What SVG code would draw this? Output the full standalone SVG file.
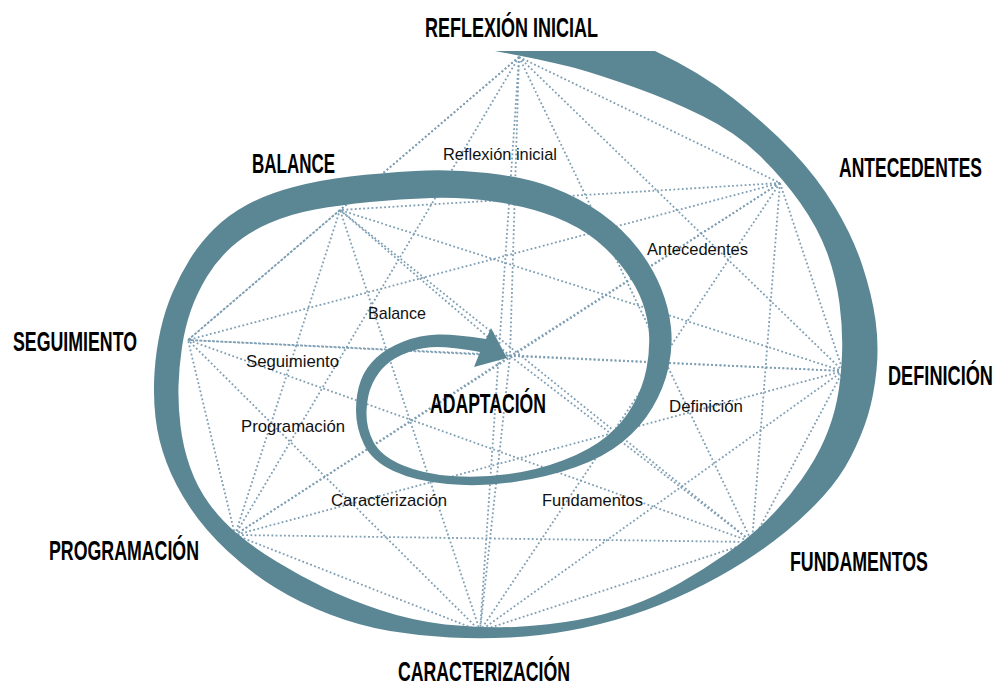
<svg xmlns="http://www.w3.org/2000/svg" width="997" height="685" viewBox="0 0 997 685">
<style>
.bg{fill:#ffffff}
.conn line{stroke:#7e9eb3;stroke-width:1.8;stroke-dasharray:1.8 2.4;fill:none}
.band{fill:#5b8795}
.big{font-family:"Liberation Sans",Arial,sans-serif;font-weight:bold;font-size:27px;fill:#000}
.small{font-family:"Liberation Sans Narrow","Liberation Sans","DejaVu Sans Condensed",sans-serif;font-size:17px;fill:#111}
</style>
<rect class="bg" x="0" y="0" width="997" height="685"/>
<g id="connectors" class="conn">
<line x1="519" y1="57" x2="780" y2="183"/>
<line x1="519" y1="57" x2="843" y2="371"/>
<line x1="519" y1="57" x2="752" y2="542"/>
<line x1="519" y1="57" x2="480" y2="631"/>
<line x1="519" y1="57" x2="235" y2="535"/>
<line x1="519" y1="57" x2="188" y2="340"/>
<line x1="519" y1="57" x2="340" y2="210"/>
<line x1="519" y1="57" x2="510" y2="356"/>
<line x1="780" y1="183" x2="843" y2="371"/>
<line x1="780" y1="183" x2="752" y2="542"/>
<line x1="780" y1="183" x2="480" y2="631"/>
<line x1="780" y1="183" x2="235" y2="535"/>
<line x1="780" y1="183" x2="188" y2="340"/>
<line x1="780" y1="183" x2="340" y2="210"/>
<line x1="780" y1="183" x2="510" y2="356"/>
<line x1="843" y1="371" x2="752" y2="542"/>
<line x1="843" y1="371" x2="480" y2="631"/>
<line x1="843" y1="371" x2="235" y2="535"/>
<line x1="843" y1="371" x2="188" y2="340"/>
<line x1="843" y1="371" x2="340" y2="210"/>
<line x1="843" y1="371" x2="510" y2="356"/>
<line x1="752" y1="542" x2="480" y2="631"/>
<line x1="752" y1="542" x2="235" y2="535"/>
<line x1="752" y1="542" x2="188" y2="340"/>
<line x1="752" y1="542" x2="340" y2="210"/>
<line x1="752" y1="542" x2="510" y2="356"/>
<line x1="480" y1="631" x2="235" y2="535"/>
<line x1="480" y1="631" x2="188" y2="340"/>
<line x1="480" y1="631" x2="340" y2="210"/>
<line x1="480" y1="631" x2="510" y2="356"/>
<line x1="235" y1="535" x2="188" y2="340"/>
<line x1="235" y1="535" x2="340" y2="210"/>
<line x1="235" y1="535" x2="510" y2="356"/>
<line x1="188" y1="340" x2="340" y2="210"/>
<line x1="188" y1="340" x2="510" y2="356"/>
<line x1="340" y1="210" x2="510" y2="356"/>
</g>
<g id="spiral">
<path class="band" d="M495,51 L655,51 Q700,72 733.5,98.5 Q767,125 792,151 Q817,177 835,207 Q853,237 862.5,266 Q872,295 875.5,320 Q879,345 876.5,370 Q874,395 868,415 Q862,435 851,456.5 Q840,478 822.5,497 Q805,516 786,531.5 Q767,547 743.5,562 Q720,577 690,591.5 Q660,606 630,615.5 Q600,625 570,630.5 Q540,636 510,637.5 Q480,639 450,637.5 Q420,636 390,631 Q360,626 330,614.5 Q300,603 275,587.5 Q250,572 227.5,551 Q205,530 190,507.5 Q175,485 166.5,462.5 Q158,440 155.5,417.5 Q153,395 154.5,372.5 Q156,350 160.5,330 Q165,310 172.5,292.5 Q180,275 190,259 Q200,243 214,229 Q228,215 247.5,204.5 Q267,194 293.5,187 Q320,180 350,176.5 Q380,173 415,171 Q450,169 487.5,173 Q525,177 552.5,187.5 Q580,198 601.5,213.5 Q623,229 638,248.5 Q653,268 661,288 Q669,308 671,327.5 Q673,347 668.5,367.5 Q664,388 652.5,407.5 Q641,427 622.5,442 Q604,457 576,467 Q548,477 514,482 Q480,487 447.5,484 Q415,481 393.5,471 Q372,461 364,444.5 Q356,428 356,410.5 Q356,393 361,380 Q366,367 376.5,357.5 Q387,348 403.5,341.5 Q420,335 437.5,334.5 Q455,334 486,339 L491,328 L507,358 L474,367 L480,352 Q452,347 437.5,347 Q423,347 409,352 Q395,357 386.5,364.5 Q378,372 372.5,383.5 Q367,395 366.5,411.5 Q366,428 373.5,442 Q381,456 402,465 Q423,474 451.5,476 Q480,478 509,474 Q538,470 564,460 Q590,450 606.5,436.5 Q623,423 633,405 Q643,387 646.5,368.5 Q650,350 649,334 Q648,318 642.5,302.5 Q637,287 625,270.5 Q613,254 596.5,240.5 Q580,227 555,217 Q530,207 496.5,202 Q463,197 431.5,198 Q400,199 370,202 Q340,205 315,209.5 Q290,214 268.5,223.5 Q247,233 232,246.5 Q217,260 207,276.5 Q197,293 191,310 Q185,327 182,347 Q179,367 178.5,386 Q178,405 180.5,426 Q183,447 190,467 Q197,487 209,503.5 Q221,520 237,533.5 Q253,547 276.5,561.5 Q300,576 325,588 Q350,600 380,610 Q410,620 445,624.5 Q480,628 515,627 Q550,625 577.5,620 Q605,615 630,606 Q655,597 679,583.5 Q703,570 726.5,553.5 Q750,537 768.5,518.5 Q787,500 801.5,479.5 Q816,459 824.5,439.5 Q833,420 837,400 Q841,380 842,355 Q843,330 839.5,303.5 Q836,277 827,252.5 Q818,228 800,202.5 Q782,177 758.5,154.5 Q735,132 702.5,116 Q670,100 635,87.5 Q600,75 575,68 Q550,61 495,51 Z"/>
</g>
<g id="node-reflexion">
<text class="big" transform="translate(425,37) scale(0.65,1)" textLength="266" lengthAdjust="spacingAndGlyphs">REFLEXIÓN INICIAL</text>
<text class="small" x="443" y="160" textLength="114" lengthAdjust="spacingAndGlyphs">Reflexión inicial</text>
</g>
<g id="node-antecedentes">
<text class="big" transform="translate(839,177) scale(0.65,1)" textLength="220" lengthAdjust="spacingAndGlyphs">ANTECEDENTES</text>
<text class="small" x="647" y="255" textLength="101" lengthAdjust="spacingAndGlyphs">Antecedentes</text>
</g>
<g id="node-definicion">
<text class="big" transform="translate(888,385) scale(0.65,1)" textLength="161.5" lengthAdjust="spacingAndGlyphs">DEFINICIÓN</text>
<text class="small" x="669" y="412" textLength="74" lengthAdjust="spacingAndGlyphs">Definición</text>
</g>
<g id="node-fundamentos">
<text class="big" transform="translate(790,571) scale(0.65,1)" textLength="212.3" lengthAdjust="spacingAndGlyphs">FUNDAMENTOS</text>
<text class="small" x="542" y="506" textLength="101" lengthAdjust="spacingAndGlyphs">Fundamentos</text>
</g>
<g id="node-caracterizacion">
<text class="big" transform="translate(398,681) scale(0.65,1)" textLength="264.6" lengthAdjust="spacingAndGlyphs">CARACTERIZACIÓN</text>
<text class="small" x="331" y="506" textLength="116" lengthAdjust="spacingAndGlyphs">Caracterización</text>
</g>
<g id="node-programacion">
<text class="big" transform="translate(49,560) scale(0.65,1)" textLength="230.8" lengthAdjust="spacingAndGlyphs">PROGRAMACIÓN</text>
<text class="small" x="241" y="432" textLength="104" lengthAdjust="spacingAndGlyphs">Programación</text>
</g>
<g id="node-seguimiento">
<text class="big" transform="translate(13,351) scale(0.65,1)" textLength="190.8" lengthAdjust="spacingAndGlyphs">SEGUIMIENTO</text>
<text class="small" x="246" y="367" textLength="93" lengthAdjust="spacingAndGlyphs">Seguimiento</text>
</g>
<g id="node-balance">
<text class="big" transform="translate(252,173) scale(0.65,1)" textLength="127.7" lengthAdjust="spacingAndGlyphs">BALANCE</text>
<text class="small" x="368" y="319" textLength="58" lengthAdjust="spacingAndGlyphs">Balance</text>
</g>
<g id="node-adaptacion">
<text class="big" transform="translate(430,413) scale(0.65,1)" textLength="178.5" lengthAdjust="spacingAndGlyphs">ADAPTACIÓN</text>
</g>
</svg>
